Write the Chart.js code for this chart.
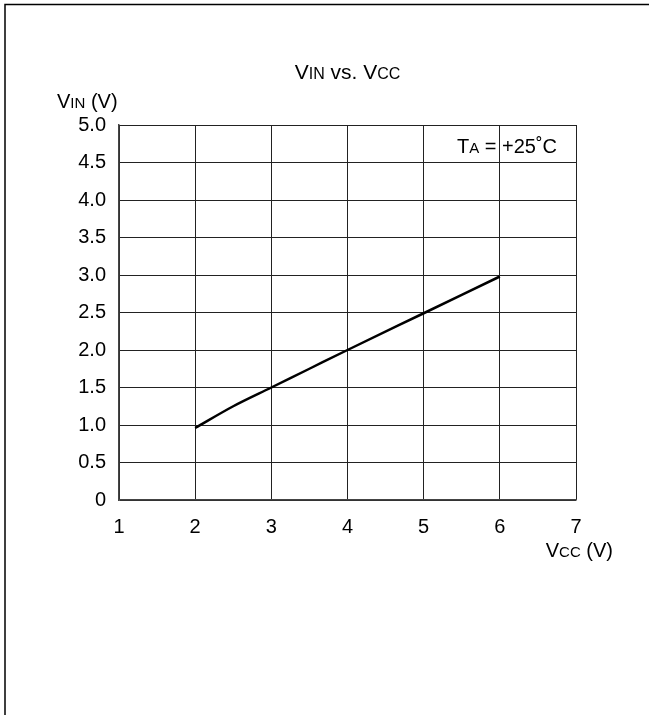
<!DOCTYPE html>
<html>
<head>
<meta charset="utf-8">
<script src="https://cdn.jsdelivr.net/npm/chart.js@4"></script>
<style>
  html, body { margin: 0; padding: 0; background: #fff; }
  #wrap { width: 649px; height: 715px; }
</style>
</head>
<body>
<div id="wrap"><canvas id="chart" width="649" height="715"></canvas></div>
<script>
// values
const vcc = [2, 2.5, 3, 3.5, 4, 5, 6];
const vin = [0.96, 1.25, 1.5, 1.75, 2.0, 2.49, 2.98];
const xTicks = [1, 2, 3, 4, 5, 6, 7];
const yTicks = [0, 0.5, 1, 1.5, 2, 2.5, 3, 3.5, 4, 4.5, 5];

const FONT = "'Liberation Sans', Arial, sans-serif";

// text with small-caps style subscripts: [[text, size], ...]
function drawParts(ctx, parts, x, y, align) {
  let total = 0;
  parts.forEach(([t, s]) => {
    ctx.font = s + "px " + FONT;
    total += ctx.measureText(t).width;
  });
  let cx = align === "center" ? x - total / 2 : align === "right" ? x - total : x;
  ctx.textBaseline = "alphabetic";
  ctx.textAlign = "left";
  parts.forEach(([t, s]) => {
    ctx.font = s + "px " + FONT;
    ctx.fillText(t, cx, y);
    cx += ctx.measureText(t).width;
  });
}

const labels = {
  id: "labels",
  beforeDraw(chart) {
    const ctx = chart.ctx;
    ctx.save();
    ctx.strokeStyle = "#000";
    ctx.lineWidth = 1.5;
    ctx.beginPath();
    ctx.moveTo(5, 715);
    ctx.lineTo(5, 4.5);
    ctx.lineTo(649, 4.5);
    ctx.stroke();
    ctx.restore();
  },
  afterDraw(chart) {
    const ctx = chart.ctx;
    const a = chart.chartArea;
    ctx.save();
    ctx.fillStyle = "#000";
    drawParts(ctx, [["V", 21], ["IN", 16], [" vs. V", 21], ["CC", 16]], (a.left + a.right) / 2, 79, "center");
    drawParts(ctx, [["V", 20], ["IN", 15], [" (V)", 20]], 57, 108, "left");
    drawParts(ctx, [["V", 20], ["CC", 15], [" (V)", 20]], 613, 557, "right");
    drawParts(ctx, [["T", 20], ["A", 15], [" = +25\u02DAC", 20]], 557, 153, "right");
    ctx.restore();
  }
};

new Chart(document.getElementById("chart"), {
  type: "scatter",
  data: {
    datasets: [{
      data: vcc.map((x, i) => ({ x: x, y: vin[i] })),
      showLine: true,
      borderColor: "#000",
      borderWidth: 2.5,
      pointRadius: 0,
      cubicInterpolationMode: "monotone",
      fill: false
    }]
  },
  options: {
    responsive: false,
    animation: false,
    layout: { padding: { top: 125, right: 73, bottom: 175, left: 0 } },
    plugins: { legend: { display: false }, tooltip: { enabled: false } },
    scales: {
      x: {
        type: "linear",
        min: 1, max: 7,
        afterBuildTicks: (s) => { s.ticks = xTicks.map(v => ({ value: v })); },
        afterFit: (s) => { s.height = 40; },
        grid: { color: "#222", lineWidth: 1, drawTicks: false },
        border: { color: "#444", width: 1.5 },
        ticks: { color: "#000", padding: 15, font: { family: FONT, size: 20 } }
      },
      y: {
        type: "linear",
        min: 0, max: 5,
        afterBuildTicks: (s) => { s.ticks = yTicks.map(v => ({ value: v })); },
        afterFit: (s) => { s.width = 119; },
        grid: { color: "#222", lineWidth: 1, drawTicks: false },
        border: { color: "#444", width: 1.5 },
        ticks: {
          color: "#000", padding: 13, font: { family: FONT, size: 20 },
          callback: (v) => v === 0 ? "0" : v.toFixed(1)
        }
      }
    }
  },
  plugins: [labels]
});
</script>
</body>
</html>
